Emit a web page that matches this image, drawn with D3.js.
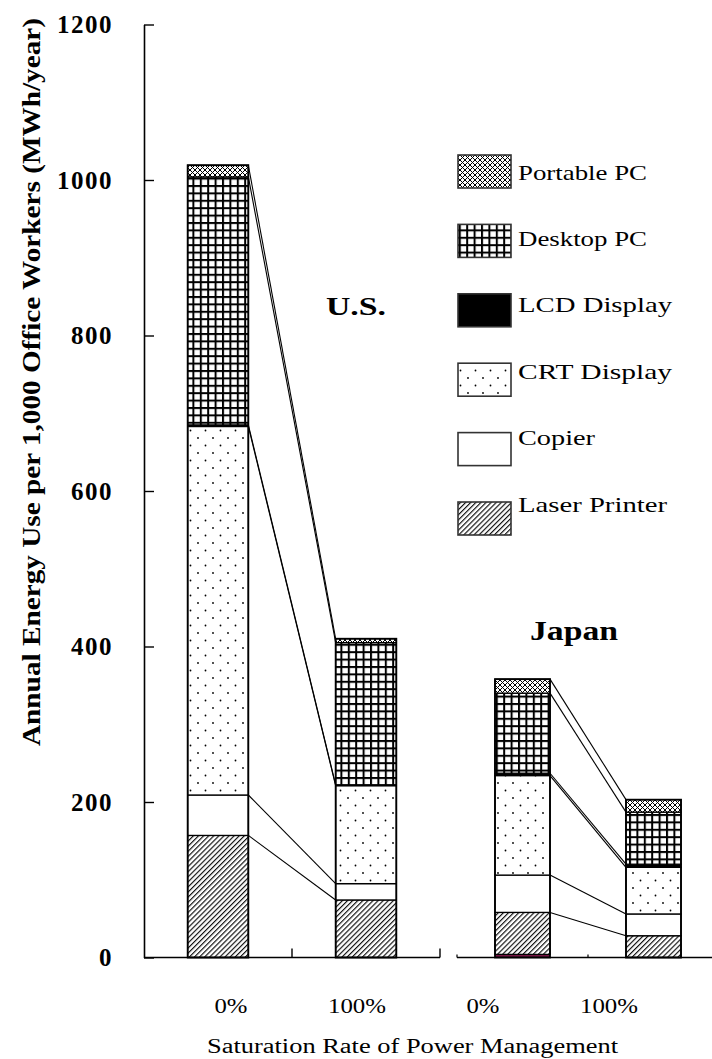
<!DOCTYPE html>
<html>
<head>
<meta charset="utf-8">
<script src="https://cdn.jsdelivr.net/npm/d3@7"></script>
<style>
  html, body { margin: 0; padding: 0; background: #fff; }
  svg { display: block; }
  text { font-family: "Liberation Serif", "DejaVu Serif", serif; fill: #000; }
</style>
</head>
<body>
<script>
// ---------------- data ----------------
const regions = ["U.S.", "Japan"];
const categories = ["0%", "100%"];
// bar order: U.S. 0%, U.S. 100%, Japan 0%, Japan 100%
const seriesNames = ["Other", "Laser Printer", "Copier", "CRT Display", "LCD Display", "Desktop PC", "Portable PC"];
const otherValues    = [0, 0, 4, 0];
const laserPrinter   = [157, 74, 54, 28];
const copier         = [52, 21, 48, 28];
const crtDisplay     = [474, 126, 128, 60];
const lcdDisplay     = [2, 1, 3, 4];
const desktopPC      = [319, 183, 103, 67];
const portablePC     = [15, 5, 18, 16];
const yTicks = [0, 200, 400, 600, 800, 1000, 1200];
const legendItems = ["Portable PC", "Desktop PC", "LCD Display", "CRT Display", "Copier", "Laser Printer"];
const xLabels = ["0%", "100%", "0%", "100%"];

const seriesValues = {
  "Other": otherValues,
  "Laser Printer": laserPrinter,
  "Copier": copier,
  "CRT Display": crtDisplay,
  "LCD Display": lcdDisplay,
  "Desktop PC": desktopPC,
  "Portable PC": portablePC
};
const rows = [];
regions.forEach((r, ri) => categories.forEach((c, ci) => {
  const i = ri * 2 + ci;
  const row = { region: r, cat: c };
  seriesNames.forEach(s => row[s] = seriesValues[s][i]);
  rows.push(row);
}));

// ---------------- setup ----------------
const W = 712, H = 1059;
const svg = d3.select("body").append("svg").attr("width", W).attr("height", H);
svg.append("rect").attr("width", W).attr("height", H).attr("fill", "#fff");

const defs = svg.append("defs");
// Portable PC: fine cross-hatch
const pPort = defs.append("pattern").attr("id", "pat-port").attr("patternUnits", "userSpaceOnUse")
  .attr("width", 5).attr("height", 5);
pPort.append("rect").attr("width", 5).attr("height", 5).attr("fill", "#fff");
pPort.append("path").attr("d", "M0,0L5,5M5,0L0,5").attr("stroke", "#000").attr("stroke-width", 1);
// Desktop PC: grid
const pDesk = defs.append("pattern").attr("id", "pat-desk").attr("patternUnits", "userSpaceOnUse")
  .attr("width", 7.4).attr("height", 7.4);
pDesk.append("rect").attr("width", 7.4).attr("height", 7.4).attr("fill", "#fff");
pDesk.append("rect").attr("width", 7.4).attr("height", 2).attr("fill", "#000");
pDesk.append("rect").attr("width", 2).attr("height", 7.4).attr("fill", "#000");
// CRT: sparse dots
const pCrt = defs.append("pattern").attr("id", "pat-crt").attr("patternUnits", "userSpaceOnUse")
  .attr("width", 15).attr("height", 15);
pCrt.append("rect").attr("width", 15).attr("height", 15).attr("fill", "#fff");
pCrt.append("circle").attr("cx", 3).attr("cy", 3).attr("r", 0.9).attr("fill", "#000");
pCrt.append("circle").attr("cx", 10.5).attr("cy", 10.5).attr("r", 0.9).attr("fill", "#000");
// Laser printer: diagonal hatch
const pLas = defs.append("pattern").attr("id", "pat-laser").attr("patternUnits", "userSpaceOnUse")
  .attr("width", 3.6).attr("height", 3.6).attr("patternTransform", "rotate(45)");
pLas.append("rect").attr("width", 3.6).attr("height", 3.6).attr("fill", "#fff");
pLas.append("line").attr("x1", 0.6).attr("x2", 0.6).attr("y1", 0).attr("y2", 3.6)
  .attr("stroke", "#000").attr("stroke-width", 1.1);

const fills = {
  "Other": "#7a1446",
  "Laser Printer": "url(#pat-laser)",
  "Copier": "#fff",
  "CRT Display": "url(#pat-crt)",
  "LCD Display": "#000",
  "Desktop PC": "url(#pat-desk)",
  "Portable PC": "url(#pat-port)"
};

// ---------------- scales ----------------
const y = d3.scaleLinear().domain([0, 1200]).range([957.5, 24.5]);
const usX = d3.scaleBand().domain(categories).range([144, 440]).paddingInner(0.59).paddingOuter(0.295);
const jpX = d3.scaleBand().domain(categories).range([457, 719]).paddingInner(0.58).paddingOuter(0.29);
const xScale = r => r === "U.S." ? usX : jpX;

const stacked = d3.stack().keys(seriesNames)(rows);

// ---------------- connectors ----------------
const conn = svg.append("g");
regions.forEach((r, ri) => {
  const sx = xScale(r);
  const i0 = ri * 2, i1 = ri * 2 + 1;
  stacked.forEach(s => {
    if (s.key === "Other") return;
    conn.append("line")
      .attr("x1", sx("0%") + sx.bandwidth()).attr("y1", y(s[i0][1]))
      .attr("x2", sx("100%")).attr("y2", y(s[i1][1]))
      .attr("stroke", "#000").attr("stroke-width", 1.1);
  });
});

// ---------------- bars ----------------
const barsG = svg.append("g");
stacked.forEach(s => {
  s.forEach((d, i) => {
    if (d[1] - d[0] <= 0) return;
    const sx = xScale(d.data.region);
    barsG.append("rect")
      .attr("x", sx(d.data.cat)).attr("width", sx.bandwidth())
      .attr("y", y(d[1])).attr("height", y(d[0]) - y(d[1]))
      .attr("fill", fills[s.key])
      .attr("stroke", s.key === "Other" ? "none" : "#000").attr("stroke-width", 1.3);
  });
});
// outline of each bar
rows.forEach(row => {
  const sx = xScale(row.region);
  const total = d3.sum(seriesNames, k => row[k]);
  barsG.append("rect")
    .attr("x", sx(row.cat)).attr("width", sx.bandwidth())
    .attr("y", y(total)).attr("height", y(0) - y(total))
    .attr("fill", "none").attr("stroke", "#000").attr("stroke-width", 1.8);
});

// ---------------- axes ----------------
const yAxis = svg.append("g").attr("transform", "translate(144,0)")
  .call(d3.axisLeft(y).tickValues(yTicks).tickFormat(d3.format("d"))
    .tickSizeInner(-10).tickSizeOuter(0).tickPadding(31));
yAxis.select(".domain").attr("stroke", "#000").attr("stroke-width", 1.6);
yAxis.selectAll(".tick line").attr("stroke", "#000").attr("stroke-width", 1.4);
yAxis.selectAll(".tick text")
  .style("font-family", "'Liberation Serif', serif").style("font-size", "25px")
  .style("font-weight", "bold").style("letter-spacing", "1.5px").attr("fill", "#000");

// baselines
const base = svg.append("g").attr("stroke", "#000");
base.append("line").attr("x1", usX.range()[0]).attr("x2", usX.range()[1])
  .attr("y1", y(0)).attr("y2", y(0)).attr("stroke-width", 1.6);
[usX("100%") - usX.step() * usX.paddingInner() / 2, usX.range()[1]].forEach(x => {
  base.append("line").attr("x1", x).attr("x2", x).attr("y1", y(0)).attr("y2", y(0) - 9).attr("stroke-width", 1.4);
});
base.append("line").attr("x1", jpX.range()[0]).attr("x2", W)
  .attr("y1", y(0)).attr("y2", y(0)).attr("stroke-width", 1.6);
[jpX.range()[0], jpX("100%") - jpX.step() * jpX.paddingInner() / 2].forEach(x => {
  base.append("line").attr("x1", x).attr("x2", x).attr("y1", y(0)).attr("y2", y(0) - 3).attr("stroke-width", 1.2);
});

// x labels
const lx = d3.scalePoint().domain(d3.range(xLabels.length)).range([231, 609]);
svg.append("g").selectAll("text").data(xLabels).join("text")
  .attr("x", (d, i) => lx(i)).attr("y", 1013)
  .attr("text-anchor", "middle").style("font-size", "20px")
  .attr("textLength", d => d === "0%" ? 33 : 58).attr("lengthAdjust", "spacingAndGlyphs")
  .text(d => d);

svg.append("text").attr("x", 412.5).attr("y", 1053).attr("text-anchor", "middle")
  .style("font-size", "20px").attr("textLength", 411).attr("lengthAdjust", "spacingAndGlyphs")
  .text("Saturation Rate of Power Management");

svg.append("text").attr("transform", "translate(40,382) rotate(-90)").attr("text-anchor", "middle")
  .style("font-size", "26px").style("font-weight", "bold")
  .attr("textLength", 728).attr("lengthAdjust", "spacingAndGlyphs")
  .text("Annual Energy Use per 1,000 Office Workers (MWh/year)");

// region labels
svg.append("text").attr("x", 356).attr("y", 315).attr("text-anchor", "middle")
  .style("font-size", "26px").style("font-weight", "bold")
  .attr("textLength", 60).attr("lengthAdjust", "spacingAndGlyphs").text("U.S.");
svg.append("text").attr("x", 574).attr("y", 640).attr("text-anchor", "middle")
  .style("font-size", "27px").style("font-weight", "bold")
  .attr("textLength", 88).attr("lengthAdjust", "spacingAndGlyphs").text("Japan");

// ---------------- legend ----------------
const legendWidths = { "Portable PC": 129, "Desktop PC": 129, "LCD Display": 154, "CRT Display": 154, "Copier": 77, "Laser Printer": 149 };
const lg = svg.append("g");
legendItems.forEach((name, i) => {
  lg.append("rect").attr("x", 458).attr("y", 155 + i * 69.4).attr("width", 53).attr("height", 33)
    .attr("fill", fills[name]).attr("stroke", "#333").attr("stroke-width", 1.6);
  lg.append("text").attr("x", 518).attr("y", 172 + i * 66.4 + 7.5)
    .style("font-size", "21px")
    .attr("textLength", legendWidths[name]).attr("lengthAdjust", "spacingAndGlyphs")
    .text(name);
});
</script>
</body>
</html>
